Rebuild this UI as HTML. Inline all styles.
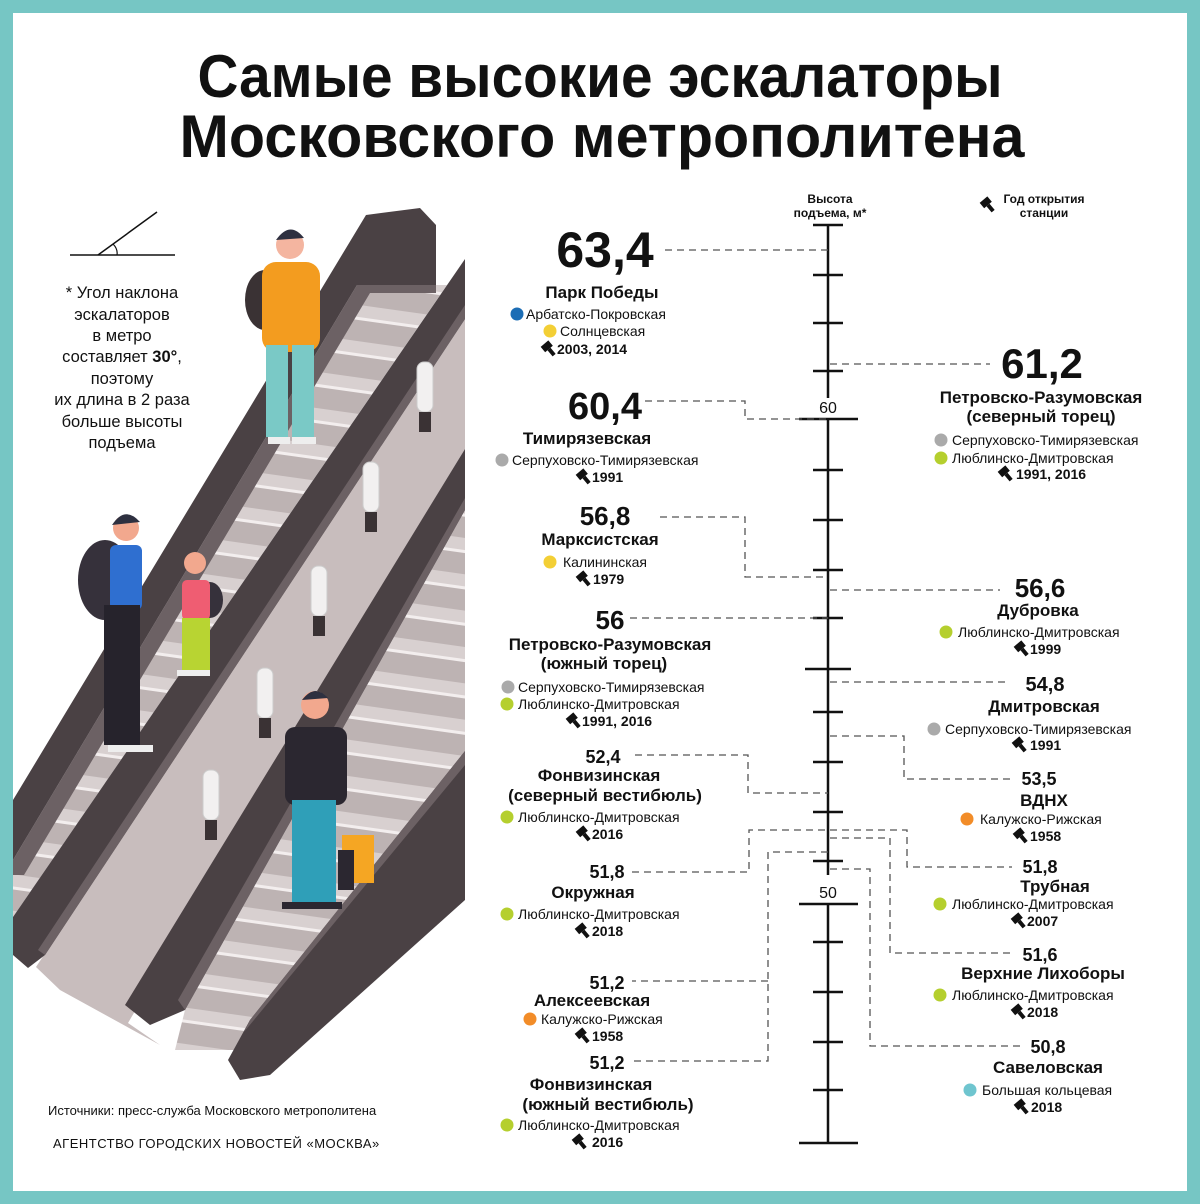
<!DOCTYPE html>
<html><head><meta charset="utf-8"><style>
html,body{margin:0;padding:0;background:#fff}
svg{display:block}
text{font-family:"Liberation Sans","DejaVu Sans",sans-serif;fill:#111}
.b{font-weight:bold}
.n{font-size:17px;font-weight:bold;text-anchor:middle}
.l{font-size:14px}
.y{font-size:14px;font-weight:bold}
.m{text-anchor:middle}
</style></head><body>
<svg width="1200" height="1204" viewBox="0 0 1200 1204" xmlns="http://www.w3.org/2000/svg">
<defs>
<g id="h"><g transform="rotate(-40)"><rect x="-5" y="-7" width="10" height="7" fill="#111"/><rect x="-2" y="0" width="4" height="8" fill="#111"/></g></g>
<pattern id="st" width="40" height="36" patternUnits="userSpaceOnUse" patternTransform="rotate(8)">
<rect width="40" height="36" fill="#bdb3b3"/><rect width="40" height="12" fill="#d8d0d0"/><rect y="12" width="40" height="3" fill="#f3eeee"/>
</pattern>
<clipPath id="cl"><rect x="13" y="200" width="452" height="990"/></clipPath>
</defs>
<rect width="1200" height="1204" fill="#76c6c4"/>
<rect x="13" y="13" width="1174" height="1178" fill="#fff"/>

<text x="600" y="97" class="b m" font-size="60" textLength="805" lengthAdjust="spacingAndGlyphs">Самые высокие эскалаторы</text>
<text x="602" y="157" class="b m" font-size="60" textLength="845" lengthAdjust="spacingAndGlyphs">Московского метрополитена</text>

<!-- escalator illustration -->
<g clip-path="url(#cl)">
<!-- S1 stairs -->
<polygon points="357,285 447,285 13,917 13,860" fill="url(#st)"/>
<!-- A balustrade -->
<polygon points="366,215 420,208 436,225 436,285 357,285 13,860 13,800" fill="#4a4144"/>
<polygon points="357,285 436,285 436,293 370,293 24,875 13,875 13,860" fill="#6c6164"/>
<!-- panel -->
<polygon points="465,319 465,449 128,1023 160,1045 60,990 36,967" fill="#c8bdbd"/>
<!-- B balustrade -->
<polygon points="465,259 465,319 45,955 28,968 13,955 13,917" fill="#4a4144"/>
<polygon points="465,305 465,319 45,955 38,950" fill="#6c6164"/>
<!-- S2 stairs -->
<polygon points="465,510 465,751 240,1050 175,1050 185,1010" fill="url(#st)"/>
<!-- C balustrade -->
<polygon points="465,449 465,510 185,1010 150,1025 125,1005" fill="#4a4144"/>
<polygon points="465,498 465,510 185,1010 178,1000" fill="#6c6164"/>
<!-- D balustrade -->
<polygon points="465,751 250,1020 228,1060 240,1080 270,1075 465,900" fill="#4a4144"/>
<polygon points="465,751 250,1020 244,1032 465,765" fill="#6c6164"/>
</g>
<!-- lamps -->
<g fill="#f2f0f0" stroke="#ccc" stroke-width="1">
<rect x="417" y="362" width="16" height="50" rx="7"/><rect x="363" y="462" width="16" height="50" rx="7"/>
<rect x="311" y="566" width="16" height="50" rx="7"/><rect x="257" y="668" width="16" height="50" rx="7"/>
<rect x="203" y="770" width="16" height="50" rx="7"/>
</g>
<g fill="#3a3234">
<rect x="419" y="412" width="12" height="20"/><rect x="365" y="512" width="12" height="20"/>
<rect x="313" y="616" width="12" height="20"/><rect x="259" y="718" width="12" height="20"/>
<rect x="205" y="820" width="12" height="20"/>
</g>
<!-- woman -->
<ellipse cx="265" cy="300" rx="20" ry="30" fill="#3a3234"/>
<rect x="262" y="262" width="58" height="90" rx="14" fill="#f39c1f"/>
<rect x="266" y="345" width="22" height="92" fill="#7ac9c6"/><rect x="292" y="345" width="22" height="92" fill="#7ac9c6"/>
<circle cx="290" cy="245" r="14" fill="#f4b5a0"/><path d="M276 240 Q290 220 304 238 Z" fill="#2e3040"/>
<rect x="268" y="437" width="22" height="7" fill="#eee"/><rect x="292" y="437" width="24" height="7" fill="#eee"/>
<!-- man -->
<ellipse cx="105" cy="580" rx="27" ry="40" fill="#36313b"/>
<rect x="110" y="545" width="32" height="65" rx="6" fill="#2f6fd0"/>
<rect x="104" y="605" width="36" height="140" fill="#26232c"/>
<circle cx="126" cy="528" r="13" fill="#f2a88e"/><path d="M112 525 Q125 505 140 522 Z" fill="#2e3040"/>
<rect x="108" y="745" width="45" height="7" fill="#eee"/>
<!-- kid -->
<ellipse cx="210" cy="600" rx="13" ry="18" fill="#36313b"/>
<rect x="182" y="580" width="28" height="40" rx="5" fill="#ef5d72"/>
<rect x="182" y="618" width="28" height="52" fill="#b8d432"/>
<circle cx="195" cy="563" r="11" fill="#f2a88e"/>
<rect x="177" y="670" width="33" height="6" fill="#eee"/>
<!-- man glasses -->
<rect x="285" y="727" width="62" height="78" rx="10" fill="#2b2730"/>
<rect x="292" y="800" width="44" height="103" fill="#2f9fb8"/>
<circle cx="315" cy="705" r="14" fill="#f2a88e"/><path d="M302 700 Q315 683 328 698 Z" fill="#2e3040"/>
<rect x="342" y="835" width="32" height="48" fill="#f5a623"/><rect x="338" y="850" width="16" height="40" fill="#2b2730"/>
<rect x="282" y="902" width="60" height="7" fill="#2b2730"/>

<!-- angle diagram and note -->
<line x1="70" y1="255" x2="175" y2="255" stroke="#111" stroke-width="1.5"/>
<line x1="98" y1="255" x2="157" y2="212" stroke="#111" stroke-width="1.5"/>
<path d="M113 244 Q118 249 117 255" fill="none" stroke="#111" stroke-width="1.2"/>
<g font-size="16.5" class="m">
<text x="122" y="298">* Угол наклона</text>
<text x="122" y="320">эскалаторов</text>
<text x="122" y="341">в метро</text>
<text x="122" y="362">составляет <tspan class="b">30°</tspan>,</text>
<text x="122" y="384">поэтому</text>
<text x="122" y="405">их длина в 2 раза</text>
<text x="122" y="427">больше высоты</text>
<text x="122" y="448">подъема</text>
</g>
<text x="48" y="1115" font-size="13" fill="#333">Источники: пресс-служба Московского метрополитена</text>
<text x="53" y="1148" font-size="13" fill="#333" letter-spacing="0.5">АГЕНТСТВО ГОРОДСКИХ НОВОСТЕЙ «МОСКВА»</text>

<!-- header -->
<text x="830" y="203" font-size="12" class="b m">Высота</text>
<text x="830" y="217" font-size="12" class="b m">подъема, м*</text>
<use href="#h" x="988" y="205"/>
<text x="1044" y="203" font-size="12" class="b m">Год открытия</text>
<text x="1044" y="217" font-size="12" class="b m">станции</text>

<!-- axis -->
<g stroke="#111" stroke-width="2.5">
<line x1="828" y1="225" x2="828" y2="398"/><line x1="828" y1="419" x2="828" y2="875"/><line x1="828" y1="904" x2="828" y2="1143"/>
<path d="M813 225H843M813 275H843M813 323H843M813 371H843M813 470H843M813 520H843M813 570H843M813 618H843M813 712H843M813 762H843M813 812H843M813 861H843M813 942H843M813 992H843M813 1042H843M813 1090H843"/>
<path d="M799 419H858M805 669H851M799 904H858M799 1143H858"/>
</g>
<text x="828" y="413" font-size="16" class="m">60</text>
<text x="828" y="898" font-size="16" class="m">50</text>

<!-- dashed -->
<g fill="none" stroke="#555" stroke-width="1.3" stroke-dasharray="7 5">
<path d="M665 250H828"/>
<path d="M645 401H745V419H828"/>
<path d="M830 364H990"/>
<path d="M660 517H745V577H828"/>
<path d="M830 590H1000"/>
<path d="M630 618H828"/>
<path d="M830 682H1010"/>
<path d="M635 755H748V793H828"/>
<path d="M830 736H904V779H1015"/>
<path d="M632 872H749V830H907V867H1012"/>
<path d="M830 838H890V953H1013"/>
<path d="M828 852H768V1061H632M768 981H632"/>
<path d="M830 869H870V1046H1020"/>
</g>

<!-- left entries -->
<text x="605" y="267" font-size="50" class="b m">63,4</text>
<text x="602" y="298" class="n">Парк Победы</text>
<circle cx="517" cy="314" r="6.5" fill="#1c6db5"/><text x="526" y="319" class="l">Арбатско-Покровская</text>
<circle cx="550" cy="331" r="6.5" fill="#f3cf35"/><text x="560" y="336" class="l">Солнцевская</text>
<use href="#h" x="549" y="349"/><text x="557" y="354" class="y">2003, 2014</text>

<text x="605" y="419" font-size="38" class="b m">60,4</text>
<text x="587" y="444" class="n">Тимирязевская</text>
<circle cx="502" cy="460" r="6.5" fill="#aaa"/><text x="512" y="465" class="l">Серпуховско-Тимирязевская</text>
<use href="#h" x="584" y="477"/><text x="592" y="482" class="y">1991</text>

<text x="605" y="525" font-size="26" class="b m">56,8</text>
<text x="600" y="545" class="n">Марксистская</text>
<circle cx="550" cy="562" r="6.5" fill="#f3cf35"/><text x="563" y="567" class="l">Калининская</text>
<use href="#h" x="584" y="579"/><text x="593" y="584" class="y">1979</text>

<text x="610" y="629" font-size="26" class="b m">56</text>
<text x="610" y="650" class="n">Петровско-Разумовская</text>
<text x="604" y="669" class="n">(южный торец)</text>
<circle cx="508" cy="687" r="6.5" fill="#aaa"/><text x="518" y="692" class="l">Серпуховско-Тимирязевская</text>
<circle cx="507" cy="704" r="6.5" fill="#b5cf2e"/><text x="518" y="709" class="l">Люблинско-Дмитровская</text>
<use href="#h" x="574" y="721"/><text x="582" y="726" class="y">1991, 2016</text>

<text x="603" y="763" font-size="18" class="b m">52,4</text>
<text x="599" y="781" class="n">Фонвизинская</text>
<text x="605" y="801" class="n">(северный вестибюль)</text>
<circle cx="507" cy="817" r="6.5" fill="#b5cf2e"/><text x="518" y="822" class="l">Люблинско-Дмитровская</text>
<use href="#h" x="584" y="834"/><text x="592" y="839" class="y">2016</text>

<text x="607" y="878" font-size="18" class="b m">51,8</text>
<text x="593" y="898" class="n">Окружная</text>
<circle cx="507" cy="914" r="6.5" fill="#b5cf2e"/><text x="518" y="919" class="l">Люблинско-Дмитровская</text>
<use href="#h" x="583" y="931"/><text x="592" y="936" class="y">2018</text>

<text x="607" y="989" font-size="18" class="b m">51,2</text>
<text x="592" y="1006" class="n">Алексеевская</text>
<circle cx="530" cy="1019" r="6.5" fill="#f28c28"/><text x="541" y="1024" class="l">Калужско-Рижская</text>
<use href="#h" x="583" y="1036"/><text x="592" y="1041" class="y">1958</text>

<text x="607" y="1069" font-size="18" class="b m">51,2</text>
<text x="591" y="1090" class="n">Фонвизинская</text>
<text x="608" y="1110" class="n">(южный вестибюль)</text>
<circle cx="507" cy="1125" r="6.5" fill="#b5cf2e"/><text x="518" y="1130" class="l">Люблинско-Дмитровская</text>
<use href="#h" x="580" y="1142"/><text x="592" y="1147" class="y">2016</text>

<!-- right entries -->
<text x="1042" y="378" font-size="42" class="b m">61,2</text>
<text x="1041" y="403" class="n">Петровско-Разумовская</text>
<text x="1041" y="422" class="n">(северный торец)</text>
<circle cx="941" cy="440" r="6.5" fill="#aaa"/><text x="952" y="445" class="l">Серпуховско-Тимирязевская</text>
<circle cx="941" cy="458" r="6.5" fill="#b5cf2e"/><text x="952" y="463" class="l">Люблинско-Дмитровская</text>
<use href="#h" x="1006" y="474"/><text x="1016" y="479" class="y">1991, 2016</text>

<text x="1040" y="597" font-size="26" class="b m">56,6</text>
<text x="1038" y="616" class="n">Дубровка</text>
<circle cx="946" cy="632" r="6.5" fill="#b5cf2e"/><text x="958" y="637" class="l">Люблинско-Дмитровская</text>
<use href="#h" x="1022" y="649"/><text x="1030" y="654" class="y">1999</text>

<text x="1045" y="691" font-size="20" class="b m">54,8</text>
<text x="1044" y="712" class="n">Дмитровская</text>
<circle cx="934" cy="729" r="6.5" fill="#aaa"/><text x="945" y="734" class="l">Серпуховско-Тимирязевская</text>
<use href="#h" x="1020" y="745"/><text x="1030" y="750" class="y">1991</text>

<text x="1039" y="785" font-size="18" class="b m">53,5</text>
<text x="1044" y="806" class="n">ВДНХ</text>
<circle cx="967" cy="819" r="6.5" fill="#f28c28"/><text x="980" y="824" class="l">Калужско-Рижская</text>
<use href="#h" x="1021" y="836"/><text x="1030" y="841" class="y">1958</text>

<text x="1040" y="873" font-size="18" class="b m">51,8</text>
<text x="1055" y="892" class="n">Трубная</text>
<circle cx="940" cy="904" r="6.5" fill="#b5cf2e"/><text x="952" y="909" class="l">Люблинско-Дмитровская</text>
<use href="#h" x="1019" y="921"/><text x="1027" y="926" class="y">2007</text>

<text x="1040" y="961" font-size="18" class="b m">51,6</text>
<text x="1043" y="979" class="n">Верхние Лихоборы</text>
<circle cx="940" cy="995" r="6.5" fill="#b5cf2e"/><text x="952" y="1000" class="l">Люблинско-Дмитровская</text>
<use href="#h" x="1019" y="1012"/><text x="1027" y="1017" class="y">2018</text>

<text x="1048" y="1053" font-size="18" class="b m">50,8</text>
<text x="1048" y="1073" class="n">Савеловская</text>
<circle cx="970" cy="1090" r="6.5" fill="#6fc5cf"/><text x="982" y="1095" class="l">Большая кольцевая</text>
<use href="#h" x="1022" y="1107"/><text x="1031" y="1112" class="y">2018</text>
</svg>
</body></html>
